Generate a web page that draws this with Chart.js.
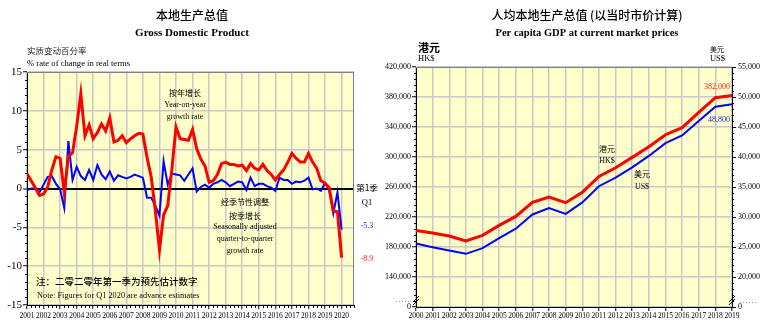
<!DOCTYPE html>
<html>
<head>
<meta charset="utf-8">
<script src="https://cdn.jsdelivr.net/npm/chart.js@4.4.1/dist/chart.umd.min.js"></script>
<style>
  html, body { margin: 0; padding: 0; background: #fff; }
  #wrap { position: relative; width: 764px; height: 334px; }
  canvas { position: absolute; top: 0; }
  #gdpChart { left: 0; }
  #perCapitaChart { left: 380px; }
</style>
</head>
<body>
<div id="wrap">
  <canvas id="gdpChart" width="380" height="334"></canvas>
  <canvas id="perCapitaChart" width="384" height="334"></canvas>
</div>
<script>
// real GDP growth, quarterly from 2001 Q1 to 2020 Q1 (%)
const gdpYears = ['2001', '2002', '2003', '2004', '2005', '2006', '2007', '2008', '2009', '2010',
  '2011', '2012', '2013', '2014', '2015', '2016', '2017', '2018', '2019', '2020'];
const yoyGrowth = [
  1.9, 1.0, 0.1, -0.9,   -0.7, 0.2, 2.4, 4.1,   3.9, -0.5, 4.1, 4.6,   8.0, 12.2, 6.8, 8.2,
  6.4, 7.2, 8.3, 7.4,    9.1, 6.0, 6.2, 6.8,    5.9, 6.4, 6.8, 7.1,    7.0, 4.0, 1.5, -2.8,
  -7.9, -3.4, -2.2, 2.5, 7.9, 6.4, 6.3, 6.2,    7.6, 5.1, 3.8, 2.9,    0.8, 1.0, 1.8, 3.2,
  3.4, 3.1, 3.1, 2.9,    3.0, 2.3, 3.2, 2.6,    2.4, 3.1, 2.3, 1.8,    1.1, 1.8, 2.4, 3.4,
  4.5, 3.9, 3.4, 3.4,    4.5, 3.4, 2.6, 1.0,    0.7, 0.1, -2.9, -3.0,  -8.9
];
const qoqGrowth = [
  -0.2, 0.0, 0.0, -0.5,  0.5, 1.5, 1.6, 0.6,    -0.1, -2.5, 6.1, 1.1,  2.8, 1.6, 1.1, 2.4,
  1.1, 3.0, 1.8, 1.2,    2.2, 1.0, 1.7, 1.5,    1.3, 1.5, 1.8, 1.6,    1.4, -1.2, -1.2, -2.2,
  -3.5, 3.5, 0.5, 1.9,   1.8, 1.7, 1.0, 1.8,    2.6, -0.4, 0.2, 0.5,   0.1, 0.6, 0.8, 1.1,
  0.8, 0.3, 0.6, 0.9,    0.8, -0.2, 1.4, 0.3,   0.6, 0.6, 0.3, 0.1,    -0.3, 1.4, 1.1, 1.1,
  0.6, 0.9, 0.8, 1.0,    1.4, -0.1, 0.0, -0.3,  0.7, -0.2, -3.2, -0.5, -5.3
];
const gdpTicks = [-15, -10, -5, 0, 5, 10, 15];

// per capita GDP at current market prices, 2000 to 2019
const perCapitaYears = ['2000', '2001', '2002', '2003', '2004', '2005', '2006', '2007', '2008', '2009',
  '2010', '2011', '2012', '2013', '2014', '2015', '2016', '2017', '2018', '2019'];
const perCapitaHKD = [202000, 198700, 194700, 188000, 195500, 208800, 220800, 239500, 246700, 239100,
  252900, 274100, 285700, 299500, 313700, 329700, 339100, 359500, 379100, 382000];
const perCapitaUSD = [25590, 24970, 24410, 23860, 24800, 26480, 28060, 30420, 31480, 30520,
  32440, 35130, 36580, 38270, 40180, 42310, 43600, 46010, 48370, 48800];

const serif = '"Liberation Serif", "Times New Roman", serif';
const cjk = '"Noto Sans CJK SC", sans-serif';
const plotFill = '#ffffcc';
const gridGrey = '#c8c8c8';

// yellow plot background
const plotBackground = {
  id: 'plotBackground',
  beforeDraw(chart) {
    const { ctx, chartArea: a } = chart;
    ctx.save();
    ctx.fillStyle = plotFill;
    ctx.fillRect(a.left, a.top, a.right - a.left, a.bottom - a.top);
    ctx.restore();
  }
};

function tickLine(ctx, x1, y1, x2, y2) {
  ctx.beginPath();
  ctx.moveTo(x1, y1);
  ctx.lineTo(x2, y2);
  ctx.stroke();
}

function text(ctx, str, x, y, font, color, align) {
  ctx.font = font;
  ctx.fillStyle = color || '#000';
  ctx.textAlign = align || 'center';
  ctx.textBaseline = 'middle';
  ctx.fillText(str, x, y);
}

// ---- left chart: GDP growth ----
const gdpDecor = {
  id: 'gdpDecor',
  afterDraw(chart) {
    const { ctx, chartArea: a, scales: { x, y } } = chart;
    ctx.save();
    // plot frame on top and right
    ctx.strokeStyle = '#808080';
    ctx.lineWidth = 1;
    tickLine(ctx, a.left, a.top + 0.5, a.right, a.top + 0.5);
    tickLine(ctx, a.right - 0.5, a.top, a.right - 0.5, a.bottom);

    // minor ticks: every 1 % on y, every quarter on x
    ctx.strokeStyle = '#000';
    for (let v = gdpTicks[0]; v <= gdpTicks[gdpTicks.length - 1]; v++) {
      if (v % 5 === 0) continue;
      const py = Math.round(y.getPixelForValue(v)) + 0.5;
      tickLine(ctx, a.left - 2, py, a.left, py);
    }
    for (let q = 0; q <= x.max; q++) {
      if (q % 4 === 0) continue;
      const px = Math.round(x.getPixelForValue(q)) + 0.5;
      tickLine(ctx, px, a.bottom, px, a.bottom + 3);
    }

    // titles
    text(ctx, '本地生产总值', 192, 15, '500 12px ' + cjk);
    text(ctx, 'Gross Domestic Product', 192, 33, 'bold 11px ' + serif);
    text(ctx, '实质变动百分率', 27, 51, '8.5px ' + cjk, '#222', 'left');
    text(ctx, '% rate of change in real terms', 27, 64, '8.6px ' + serif, '#000', 'left');

    // series captions
    text(ctx, '按年增长', 185, 93, '8px ' + cjk);
    text(ctx, 'Year-on-year', 185, 105, '8px ' + serif);
    text(ctx, 'growth rate', 185, 117, '8px ' + serif);
    text(ctx, '经季节性调整', 245, 202, '8px ' + cjk);
    text(ctx, '按季增长', 245, 216, '8px ' + cjk);
    text(ctx, 'Seasonally adjusted', 245, 227, '8px ' + serif);
    text(ctx, 'quarter-to-quarter', 245, 239, '8px ' + serif);
    text(ctx, 'growth rate', 245, 251, '8px ' + serif);

    // latest quarter values
    const last = yoyGrowth.length - 1;
    const lx = a.right + 13;
    text(ctx, '第1季', lx, 188, '8.5px ' + cjk);
    text(ctx, 'Q1', lx, 203, '8.5px ' + serif);
    text(ctx, qoqGrowth[last].toFixed(1), lx, y.getPixelForValue(qoqGrowth[last]) - 4, '8px ' + serif, '#2020ff');
    text(ctx, yoyGrowth[last].toFixed(1), lx, y.getPixelForValue(yoyGrowth[last]) + 1, '8px ' + serif, '#ff2020');

    // footnote
    text(ctx, '注：二零二零年第一季为预先估计数字', 36, 281, '500 9.5px ' + cjk, '#000', 'left');
    text(ctx, 'Note: Figures for Q1 2020 are advance estimates', 37, 296, '8.3px ' + serif, '#000', 'left');
    ctx.restore();
  }
};

new Chart(document.getElementById('gdpChart'), {
  type: 'line',
  data: {
    datasets: [
      {
        label: 'Year-on-year growth rate',
        data: yoyGrowth.map((v, i) => ({ x: i, y: v })),
        borderColor: '#ff0000',
        borderWidth: 3,
        pointRadius: 0,
        tension: 0
      },
      {
        label: 'Seasonally adjusted quarter-to-quarter growth rate',
        data: qoqGrowth.map((v, i) => ({ x: i, y: v })),
        borderColor: '#0000ff',
        borderWidth: 2,
        pointRadius: 0,
        tension: 0
      }
    ]
  },
  options: {
    responsive: false,
    animation: false,
    devicePixelRatio: 1,
    layout: { padding: { top: 72, right: 26, bottom: 0, left: 0 } },
    plugins: { legend: { display: false }, tooltip: { enabled: false } },
    scales: {
      x: {
        type: 'linear',
        min: 0,
        max: 79,
        afterBuildTicks: (s) => { s.ticks = gdpYears.map((_, k) => ({ value: k * 4 })); },
        afterFit: (s) => { s.height = 29; },
        grid: {
          color: gridGrey,
          lineWidth: 1.5,
          drawTicks: true,
          tickLength: 4,
          tickColor: '#000',
          tickWidth: 1
        },
        border: { color: '#000', width: 1 },
        ticks: {
          autoSkip: false,
          maxRotation: 0,
          padding: 3,
          color: '#000',
          font: { family: serif, size: 7.5 },
          callback: (v) => gdpYears[v / 4]
        }
      },
      y: {
        min: gdpTicks[0],
        max: gdpTicks[gdpTicks.length - 1],
        afterBuildTicks: (s) => { s.ticks = gdpTicks.map((v) => ({ value: v })); },
        afterFit: (s) => { s.width = 27; },
        grid: {
          color: (c) => (c.tick && c.tick.value === 0 ? '#000' : gridGrey),
          lineWidth: (c) => (c.tick && c.tick.value === 0 ? 2 : 1.5),
          drawTicks: true,
          tickLength: 4,
          tickColor: '#000',
          tickWidth: 1
        },
        border: { color: '#000', width: 1 },
        ticks: {
          padding: 1,
          color: '#000',
          font: { family: serif, size: 11 }
        }
      }
    }
  },
  plugins: [plotBackground, gdpDecor]
});

// ---- right chart: per capita GDP ----
function breakMark(ctx, x, y) {
  ctx.strokeStyle = '#000';
  ctx.lineWidth = 1;
  tickLine(ctx, x - 3, y + 2, x + 3, y - 4);
  tickLine(ctx, x - 3, y + 5, x + 3, y - 1);
}

const perCapitaDecor = {
  id: 'perCapitaDecor',
  afterDraw(chart) {
    const { ctx, chartArea: a, scales: { x, y, y1 } } = chart;
    ctx.save();
    ctx.strokeStyle = '#808080';
    ctx.lineWidth = 1;
    tickLine(ctx, a.left, a.top + 0.5, a.right, a.top + 0.5);

    // minor ticks
    ctx.strokeStyle = '#000';
    for (let v = y.min; v <= y.max; v += 8000) {
      if ((v - y.min) % 40000 === 0) continue;
      const py = Math.round(y.getPixelForValue(v)) + 0.5;
      tickLine(ctx, a.left - 2, py, a.left, py);
    }
    for (let v = y1.min; v <= y1.max; v += 1000) {
      if (v % 5000 === 0) continue;
      const py = Math.round(y1.getPixelForValue(v)) + 0.5;
      tickLine(ctx, a.right, py, a.right + 2, py);
    }

    // broken axis marks
    ctx.save();
    ctx.strokeStyle = '#999';
    ctx.setLineDash([1, 2]);
    tickLine(ctx, a.left - 20, a.bottom - 5.5, a.left - 5, a.bottom - 5.5);
    tickLine(ctx, a.right + 8, a.bottom - 4.5, a.right + 26, a.bottom - 4.5);
    ctx.restore();
    breakMark(ctx, a.left, a.bottom - 7);
    breakMark(ctx, a.right, a.bottom - 7);

    // titles
    text(ctx, '人均本地生产总值 (以当时市价计算)', 207, 15, '500 12px ' + cjk);
    text(ctx, 'Per capita GDP at current market prices', 207, 33, 'bold 10.5px ' + serif);
    text(ctx, '港元', 38, 48, 'bold 11px ' + cjk, '#000', 'left');
    text(ctx, 'HK$', 38, 58.5, '8.5px ' + serif, '#000', 'left');
    text(ctx, '美元', 337, 49, '7px ' + cjk);
    text(ctx, 'US$', 337.5, 58.5, '8.5px ' + serif);

    // series captions
    text(ctx, '港元', 227, 149, '8px ' + cjk);
    text(ctx, 'HK$', 227, 160.5, '8px ' + serif);
    text(ctx, '美元', 262, 174, '8px ' + cjk);
    text(ctx, 'US$', 262, 187, '8px ' + serif);

    // latest values
    const last = perCapitaHKD.length - 1;
    text(ctx, perCapitaHKD[last].toLocaleString('en-US'), a.right - 2,
      y.getPixelForValue(perCapitaHKD[last]) - 9, '8px ' + serif, '#ff2020', 'right');
    text(ctx, perCapitaUSD[last].toLocaleString('en-US'), a.right - 2,
      y1.getPixelForValue(perCapitaUSD[last]) + 16, '8px ' + serif, '#2020ff', 'right');
    ctx.restore();
  }
};

new Chart(document.getElementById('perCapitaChart'), {
  type: 'line',
  data: {
    labels: perCapitaYears,
    datasets: [
      {
        label: 'HK$',
        data: perCapitaHKD,
        yAxisID: 'y',
        borderColor: '#ff0000',
        borderWidth: 3,
        pointRadius: 0,
        tension: 0
      },
      {
        label: 'US$',
        data: perCapitaUSD,
        yAxisID: 'y1',
        borderColor: '#0000ff',
        borderWidth: 2,
        pointRadius: 0,
        tension: 0
      }
    ]
  },
  options: {
    responsive: false,
    animation: false,
    devicePixelRatio: 1,
    layout: { padding: { top: 67, right: 0, bottom: 0, left: 0 } },
    plugins: { legend: { display: false }, tooltip: { enabled: false } },
    scales: {
      x: {
        offset: false,
        afterFit: (s) => { s.height = 27; },
        grid: {
          color: gridGrey,
          lineWidth: 1.5,
          drawTicks: true,
          tickLength: 4,
          tickColor: '#000',
          tickWidth: 1
        },
        border: { color: '#000', width: 1 },
        ticks: {
          autoSkip: false,
          maxRotation: 0,
          padding: 1,
          color: '#000',
          font: { family: serif, size: 7.5 }
        }
      },
      y: {
        position: 'left',
        min: 100000,
        max: 420000,
        afterFit: (s) => { s.width = 36; },
        grid: {
          color: gridGrey,
          lineWidth: 1.5,
          drawTicks: true,
          tickLength: 4,
          tickColor: '#000',
          tickWidth: 1
        },
        border: { color: '#000', width: 1 },
        ticks: {
          stepSize: 40000,
          padding: 1,
          color: '#000',
          font: { family: serif, size: 8 },
          callback: (v) => (v === 100000 ? '0' : v.toLocaleString('en-US'))
        }
      },
      y1: {
        position: 'right',
        min: 15000,
        max: 55000,
        afterFit: (s) => { s.width = 32; },
        grid: {
          drawOnChartArea: false,
          drawTicks: true,
          tickLength: 4,
          tickColor: '#000',
          tickWidth: 1
        },
        border: { color: '#000', width: 1 },
        ticks: {
          stepSize: 5000,
          padding: 2,
          color: '#000',
          font: { family: serif, size: 8 },
          callback: (v) => (v === 15000 ? '0' : v.toLocaleString('en-US'))
        }
      }
    }
  },
  plugins: [plotBackground, perCapitaDecor]
});
</script>
</body>
</html>
